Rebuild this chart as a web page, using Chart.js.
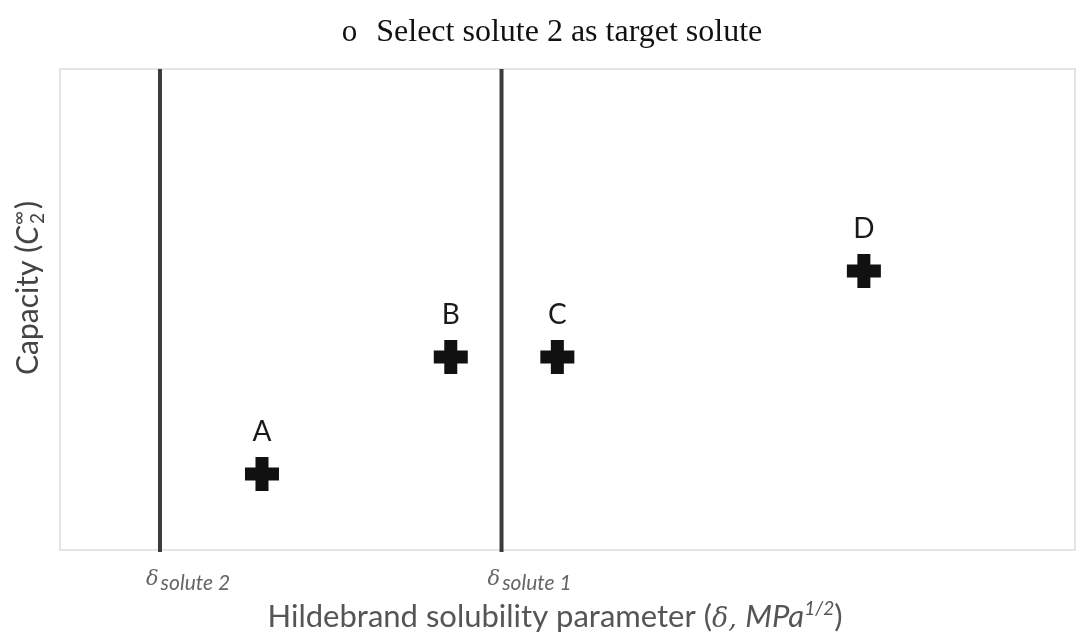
<!DOCTYPE html>
<html>
<head>
<meta charset="utf-8">
<script src="https://cdn.jsdelivr.net/npm/chart.js@4.4.1/dist/chart.umd.min.js"></script>
<style>
  html, body { margin: 0; padding: 0; background: #fff; }
  #wrap { width: 1082px; height: 640px; }
</style>
</head>
<body>
<div id="wrap"><canvas id="chart" width="1082" height="640"></canvas></div>
<script>
'use strict';

// ─── Data ────────────────────────────────────────────────────────────────────
const pointLabels = ['A', 'B', 'C', 'D'];
const pointX      = [19.9, 38.5, 49.0, 79.2];
const pointY      = [15.8, 40.1, 40.1, 58.0];

// Reference solubility parameters (vertical lines)
const soluteNames = ['solute 2', 'solute 1'];
const soluteX     = [9.85, 43.5];

const titleText  = 'Select solute 2 as target solute';
const xAxisText  = 'Hildebrand solubility parameter (';
const yAxisText  = 'Capacity (';

const SANS = 'Lato, "Open Sans", sans-serif';
const SERIF = '"Liberation Serif", "Times New Roman", serif';

// ─── Custom drawing plugin ───────────────────────────────────────────────────
// Frame, reference lines, point letters and axis titles with sub/superscripts.
const decorPlugin = {
  id: 'decor',
  beforeDatasetsDraw(chart) {
    const { ctx, chartArea: a, scales } = chart;
    ctx.save();
    // light plot frame
    ctx.strokeStyle = '#dcdcdc';
    ctx.lineWidth = 1.5;
    ctx.strokeRect(a.left, a.top, a.right - a.left, a.bottom - a.top);

    // vertical reference lines
    ctx.strokeStyle = '#3c3c3c';
    ctx.lineWidth = 4;
    soluteX.forEach(v => {
      const px = scales.x.getPixelForValue(v);
      ctx.beginPath();
      ctx.moveTo(px, a.top);
      ctx.lineTo(px, a.bottom + 2);
      ctx.stroke();
    });
    ctx.restore();
  },
  afterDatasetsDraw(chart) {
    const { ctx, chartArea: a, scales } = chart;
    ctx.save();

    // point letters
    const meta = chart.getDatasetMeta(0);
    ctx.fillStyle = '#1a1a1a';
    ctx.font = '28px ' + SANS;
    ctx.textAlign = 'center';
    ctx.textBaseline = 'alphabetic';
    meta.data.forEach((pt, i) => {
      ctx.fillText(pointLabels[i], pt.x, pt.y - 33);
    });

    // tick labels under reference lines
    ctx.fillStyle = '#666';
    soluteX.forEach((v, i) => {
      const px = scales.x.getPixelForValue(v);
      ctx.textAlign = 'left';
      ctx.font = 'italic 21px "DejaVu Serif", serif';
      const dw = ctx.measureText('δ').width;
      const x0 = px - 14;
      ctx.fillText('δ', x0, a.bottom + 35);
      ctx.font = 'italic 21px ' + SANS;
      ctx.fillText(soluteNames[i], x0 + dw + 2, a.bottom + 40);
    });

    // main title
    ctx.fillStyle = '#111';
    ctx.textAlign = 'left';
    ctx.font = '32px ' + SERIF;
    const tw = ctx.measureText(titleText).width;
    ctx.font = '31px ' + SERIF;
    const bw = ctx.measureText('o').width;
    const gap = 19;
    const tx = 552 - (tw + bw + gap) / 2;
    ctx.fillText('o', tx, 41);
    ctx.font = '32px ' + SERIF;
    ctx.fillText(titleText, tx + bw + gap, 41);

    // x-axis title
    ctx.fillStyle = '#555';
    const parts = [
      { t: xAxisText, f: '31px ' + SANS, dy: 0 },
      { t: 'δ, ', f: 'italic 27px "DejaVu Serif", serif', dy: 0 },
      { t: 'MPa', f: 'italic 31px ' + SANS, dy: 0 },
      { t: '1/2', f: 'italic 19px ' + SANS, dy: -12 },
      { t: ')', f: '31px ' + SANS, dy: 0 },
    ];
    let total = 0;
    parts.forEach(p => { ctx.font = p.f; p.w = ctx.measureText(p.t).width; total += p.w; });
    let cx = 555 - total / 2;
    parts.forEach(p => {
      ctx.font = p.f;
      ctx.fillText(p.t, cx, 627 + p.dy);
      cx += p.w;
    });

    // y-axis title (rotated)
    ctx.translate(38, 288);
    ctx.rotate(-Math.PI / 2);
    ctx.fillStyle = '#444';
    const yparts = [
      { t: yAxisText, f: '30px ' + SANS },
      { t: 'C', f: 'italic 30px ' + SANS },
    ];
    let ytot = 0;
    yparts.forEach(p => { ctx.font = p.f; p.w = ctx.measureText(p.t).width; ytot += p.w; });
    ctx.font = '19px ' + SANS;
    const supW = ctx.measureText('∞').width;
    ctx.font = '30px ' + SANS;
    const closeW = ctx.measureText(')').width;
    ytot += supW + 3 + closeW;
    let yx = -ytot / 2;
    yparts.forEach(p => {
      ctx.font = p.f;
      ctx.fillText(p.t, yx, 0);
      yx += p.w;
    });
    ctx.font = '19px ' + SANS;
    ctx.fillText('∞', yx + 1, -13);
    ctx.fillText('2', yx + 2, 6);
    yx += supW + 3;
    ctx.font = '30px ' + SANS;
    ctx.fillText(')', yx, 0);

    ctx.restore();
  },
};

// ─── Chart ───────────────────────────────────────────────────────────────────
const ctx = document.getElementById('chart').getContext('2d');
new Chart(ctx, {
  type: 'scatter',
  data: {
    datasets: [{
      data: pointX.map((x, i) => ({ x, y: pointY[i] })),
      pointStyle: 'cross',
      pointRadius: 17,
      borderWidth: 13,
      borderColor: '#111',
      backgroundColor: '#111',
    }],
  },
  options: {
    responsive: false,
    animation: false,
    layout: { autoPadding: false, padding: { left: 60, top: 69, right: 7, bottom: 90 } },
    plugins: {
      legend: { display: false },
      tooltip: { enabled: false },
    },
    scales: {
      x: { type: 'linear', min: 0, max: 100, display: false },
      y: { type: 'linear', min: 0, max: 100, display: false },
    },
  },
  plugins: [decorPlugin],
});
</script>
</body>
</html>
